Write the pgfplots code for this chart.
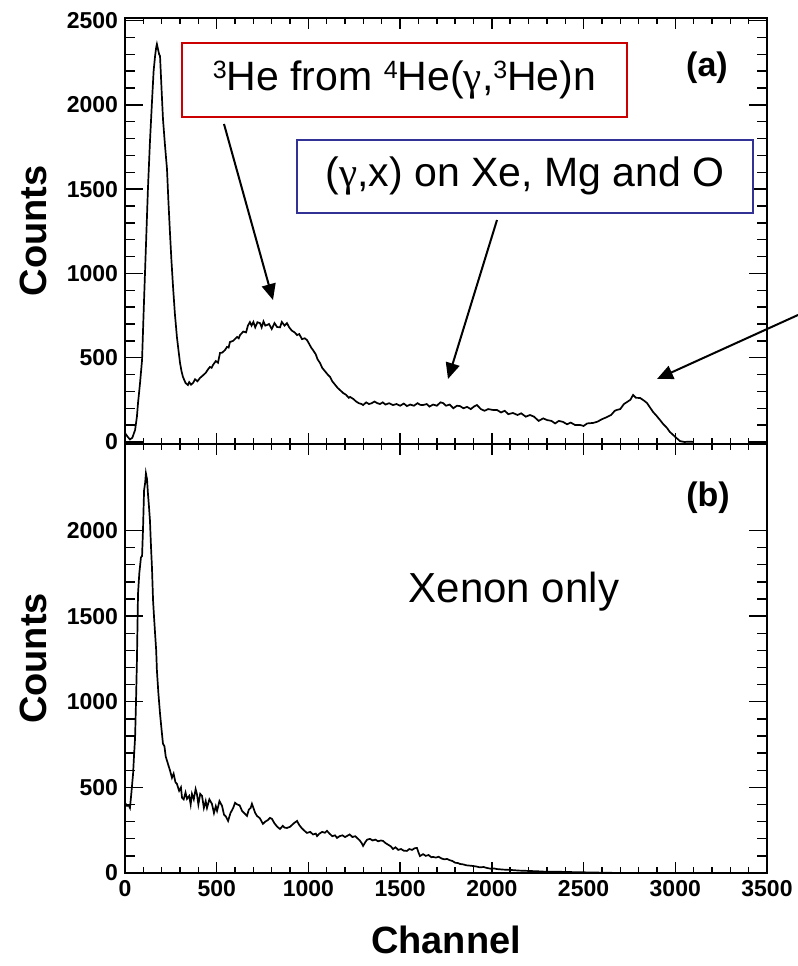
\documentclass[border=0pt]{standalone}
\usepackage{fontspec}
\setmainfont{Liberation Sans}
\newfontfamily\grk{Liberation Serif}
\usepackage{pgfplots}
\pgfplotsset{compat=1.18}
\usetikzlibrary{arrows.meta}

\pgfplotstableread{
x y
0 53
15 30
27 15
40 25
55 71
65 150
71 231
82 350
93 486
101 750
109 1002
117 1250
125 1500
136 1780
147 2016
156 2200
164 2289
170 2340
174 2360
180 2330
186 2300
191 2289
199 2100
207 1916
218 1760
229 1618
237 1420
245 1245
253 1080
262 919
272 760
283 623
292 540
300 469
308 420
316 386
330 350
343 338
350 355
360 340
371 350
382 372
395 360
409 380
425 395
440 410
452 430
463 445
472 440
480 457
495 480
507 470
518 528
530 530
545 545
556 564
565 560
572 593
590 600
611 623
620 615
627 634
645 655
660 650
670 690
681 711
690 690
700 712
710 680
722 710
736 705
745 680
755 715
765 690
774 694
785 700
800 670
815 705
829 682
845 680
855 712
870 690
883 705
895 680
910 660
925 650
938 634
950 640
965 610
980 615
992 605
1005 580
1015 560
1025 545
1040 520
1050 490
1063 469
1075 440
1090 420
1105 400
1118 386
1130 360
1145 340
1160 320
1172 308
1190 290
1205 280
1220 262
1227 267
1245 255
1260 240
1275 230
1290 225
1298 219
1315 235
1330 225
1345 230
1360 240
1374 231
1390 225
1405 235
1420 222
1440 230
1461 219
1480 225
1500 215
1520 228
1537 213
1555 222
1575 215
1595 230
1610 220
1625 219
1645 225
1660 210
1680 222
1700 215
1720 235
1734 231
1750 215
1770 222
1790 200
1810 215
1826 213
1845 200
1865 208
1885 195
1905 212
1919 219
1940 195
1960 185
1980 195
2006 190
2028 190
2050 175
2070 185
2090 165
2115 172
2140 160
2160 170
2185 150
2208 160
2230 150
2255 125
2280 140
2301 130
2325 125
2345 110
2365 125
2388 119
2410 105
2430 115
2455 100
2481 101
2500 95
2520 110
2552 113
2575 120
2600 135
2628 148
2650 160
2670 185
2682 190
2700 195
2720 225
2737 237
2755 250
2770 279
2785 262
2808 261
2830 245
2846 231
2862 205
2879 178
2898 155
2917 130
2935 105
2955 83
2970 60
2988 42
3005 25
3026 5
3050 0
3080 2
3100 0
}\topdata

\pgfplotstableread{
x y
0 410
11 392
20 395
27 380
35 470
44 579
50 700
55 790
60 1000
65 1240
71 1632
78 1750
87 1843
93 1850
98 2000
104 2235
110 2280
114 2334
120 2300
125 2217
130 2150
136 2059
142 1900
147 1784
153 1591
158 1500
164 1398
170 1300
174 1182
182 1050
191 930
200 830
207 755
215 740
222 680
234 638
245 600
256 556
265 580
275 530
283 521
295 480
305 500
311 439
320 430
330 470
338 433
350 450
358 400
365 462
375 430
385 490
392 462
400 400
410 462
420 450
430 380
440 420
447 380
460 430
474 404
485 350
495 390
502 363
515 420
529 392
540 340
550 330
562 304
575 350
590 380
600 410
612 400
625 395
638 363
650 350
665 333
675 370
685 380
692 404
700 380
710 350
720 333
735 320
752 287
765 300
780 310
790 322
801 316
815 290
830 270
845 257
860 275
870 265
883 263
900 270
920 290
938 304
950 280
965 260
980 245
992 234
1010 240
1025 225
1040 230
1047 216
1060 230
1075 240
1090 235
1101 246
1115 230
1130 215
1145 220
1156 205
1170 215
1185 220
1200 210
1210 216
1225 225
1240 210
1255 215
1265 205
1280 190
1290 175
1298 158
1310 180
1320 195
1336 199
1350 190
1365 195
1380 185
1395 190
1407 187
1420 175
1435 165
1450 155
1461 140
1475 150
1490 135
1505 140
1520 130
1537 129
1550 140
1565 135
1580 145
1592 146
1600 120
1608 99
1625 110
1640 100
1655 105
1670 92
1679 94
1695 90
1710 95
1725 85
1740 80
1756 82
1770 75
1785 70
1800 60
1815 58
1826 53
1845 50
1860 45
1880 43
1897 41
1915 38
1935 33
1955 35
1974 29
1995 25
2010 27
2028 23
2060 20
2100 18
2150 14
2200 12
2250 10
2300 7
2350 8
2400 6
2450 5
2500 4
2550 3
2600 2
2650 1
2700 0
}\botdata

\pgfplotsset{
  common/.style={
    scale only axis, width=321pt,
    xmin=0, xmax=3500,
    minor tick num=4,
    tick pos=both, tick align=inside,
    axis line style={line width=1pt},
    every tick/.append style={black, line width=0.7pt},
  },
  % main axis: x ticks, labels, curve; y tick lines hidden
  myaxis/.style={
    common,
    xtick={0,500,...,3500},
    major tick length=5.5pt, minor tick length=3pt,
    ytick style={draw=none},
    ticklabel style={font=\fontsize{11.5}{13}\selectfont\bfseries},
    /pgf/number format/assume math mode=true,
    /pgf/number format/1000 sep={},
    scaled ticks=false,
    ylabel={Counts},
    ylabel style={font=\fontsize{19}{22}\selectfont\bfseries, at={(axis description cs:-0.143,0.5)}, anchor=center},
  },
  % overlay axis: only the longer y ticks
  yonly/.style={
    common,
    xtick=\empty,
    major tick length=9pt, minor tick length=5pt,
    yticklabels={},
  },
}
\newcommand\sups[1]{\raisebox{6pt}{\fontsize{12.5}{13}\selectfont #1}}
\newcommand\gam{{\grk γ}}

\begin{document}
\begin{tikzpicture}
\path[use as bounding box] (0,0) rectangle (399pt,483pt);

\begin{axis}[myaxis, at={(62.5pt,261pt)}, anchor=south west, height=213pt,
  ymin=-12, ymax=2515, ytick={0,500,...,2500}, xticklabels={}]
\addplot[black, line width=0.85pt, mark=none] table[x=x,y=y] {\topdata};
\end{axis}
\begin{axis}[yonly, at={(62.5pt,261pt)}, anchor=south west, height=213pt,
  ymin=-12, ymax=2515, ytick={0,500,...,2500}]
\end{axis}

\begin{axis}[myaxis, at={(62.5pt,46.5pt)}, anchor=south west, height=214.5pt,
  ymin=0, ymax=2505, ytick={0,500,...,2000},
  xlabel={Channel},
  xlabel style={font=\fontsize{19}{22}\selectfont\bfseries, at={(axis description cs:0.5,-0.156)}, anchor=center}]
\addplot[black, line width=0.85pt, mark=none] table[x=x,y=y] {\botdata};
\end{axis}
\begin{axis}[yonly, at={(62.5pt,46.5pt)}, anchor=south west, height=214.5pt,
  ymin=0, ymax=2505, ytick={0,500,...,2000}]
\end{axis}

% panel letters
\node[font=\fontsize{17}{20}\selectfont\bfseries] at (353.5pt,449pt) {(a)};
\node[font=\fontsize{17}{20}\selectfont\bfseries] at (354pt,234pt) {(b)};
\node[font=\fontsize{21}{24}\selectfont] at (257pt,187pt) {Xenon only};

% annotation boxes
\node[draw={rgb,255:red,204;green,0;blue,0}, line width=0.8pt, fill=white,
  minimum width=222.5pt, minimum height=37pt, inner sep=0pt,
  font=\fontsize{20.5}{24}\selectfont] at (202.25pt,443pt)
  {\sups{3}He from \sups{4}He(\gam,\sups{3}He)n};
\node[draw={rgb,255:red,50;green,50;blue,150}, line width=0.8pt, fill=white,
  minimum width=228pt, minimum height=36.5pt, inner sep=0pt,
  font=\fontsize{20.5}{24}\selectfont] at (262.5pt,394.75pt)
  {(\gam,x) on Xe, Mg and O};

% arrows
\begin{scope}[line width=1pt, -{Triangle[length=8pt,width=7pt]}]
\draw (112pt,421pt) -- (136.5pt,333pt);
\draw (248.5pt,373pt) -- (224pt,293.5pt);
\draw (399pt,325.5pt) -- (328.5pt,293.5pt);
\end{scope}
\end{tikzpicture}
\end{document}
